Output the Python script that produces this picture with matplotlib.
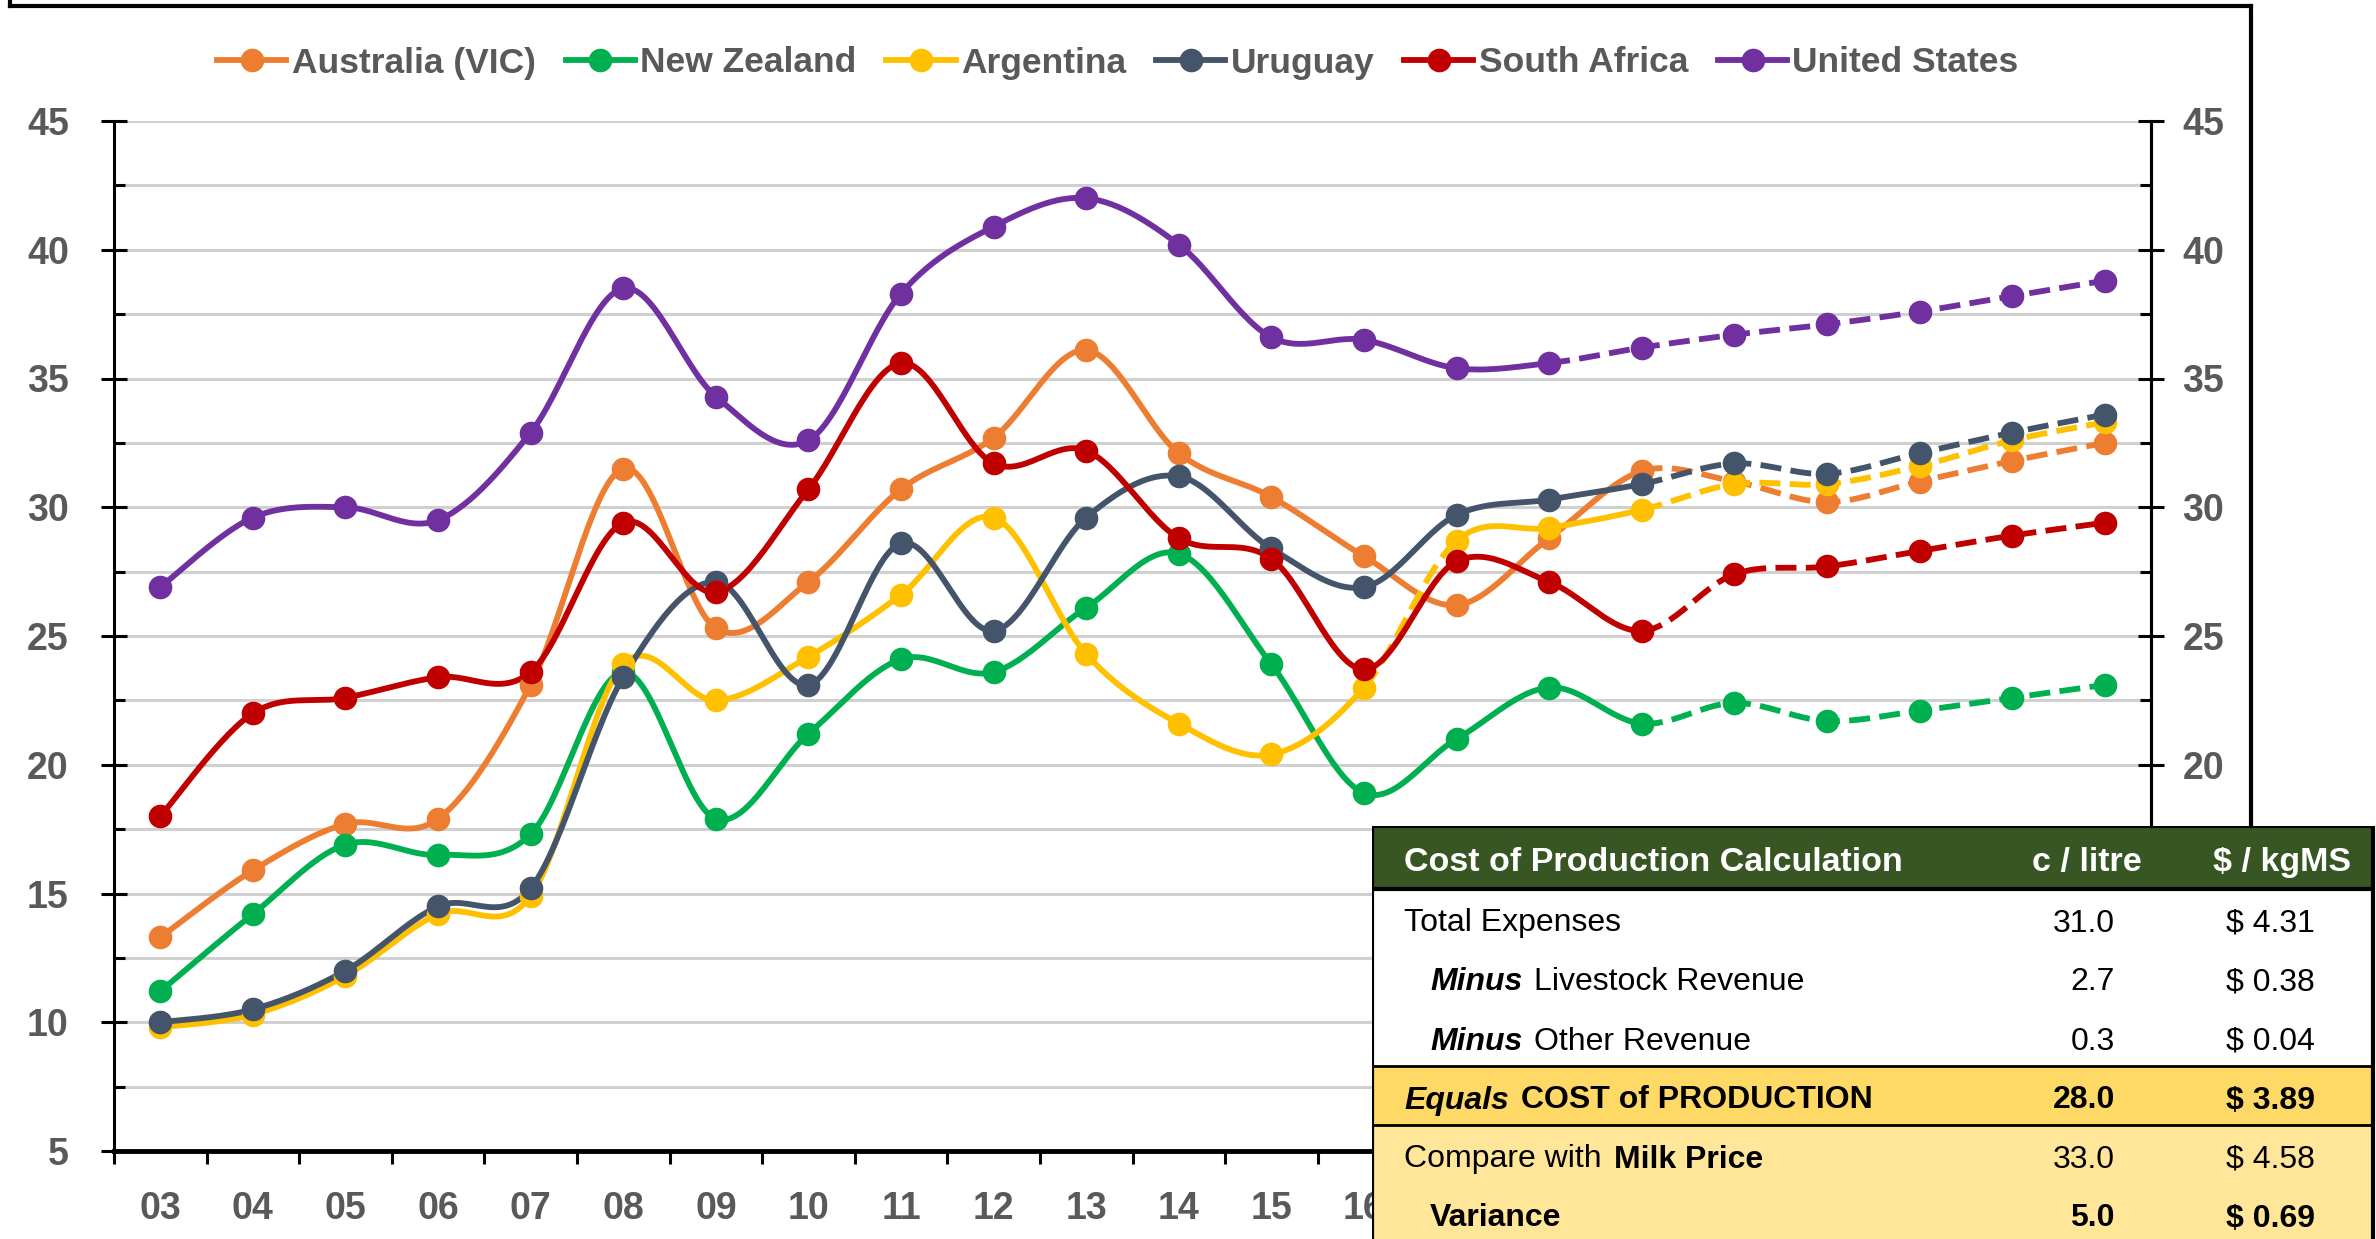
"""
各国牛奶生产成本对比图 (c / litre), 右下角附成本计算表
"""

import matplotlib

matplotlib.use("Agg")
import matplotlib.pyplot as plt
import numpy as np
from matplotlib.lines import Line2D
from matplotlib.patches import Rectangle

plt.rcParams["font.family"] = ["Liberation Sans", "DejaVu Sans"]

W, H = 2376, 1239  # 输出图片像素大小 (dpi=100)

# ---------------- 数据 ----------------
years = ["03", "04", "05", "06", "07", "08", "09", "10", "11", "12", "13",
         "14", "15", "16", "17", "18", "19", "20", "21", "22", "23", "24"]

series_names = ["Australia (VIC)", "New Zealand", "Argentina", "Uruguay",
                "South Africa", "United States"]
series_colors = ["#ED7D31", "#00B050", "#FFC000", "#44546A", "#C00000", "#7030A0"]

aus = [13.3, 15.9, 17.7, 17.9, 23.1, 31.5, 25.3, 27.1, 30.7, 32.7, 36.1,
       32.1, 30.4, 28.1, 26.2, 28.8, 31.4, 31.0, 30.2, 31.0, 31.8, 32.5]
nz = [11.2, 14.2, 16.9, 16.5, 17.3, 23.6, 17.9, 21.2, 24.1, 23.6, 26.1,
      28.2, 23.9, 18.9, 21.0, 23.0, 21.6, 22.4, 21.7, 22.1, 22.6, 23.1]
arg = [9.8, 10.3, 11.8, 14.2, 14.9, 23.9, 22.5, 24.2, 26.6, 29.6, 24.3,
       21.6, 20.4, 23.0, 28.7, 29.2, 29.9, 30.9, 30.9, 31.6, 32.6, 33.3]
uru = [10.0, 10.5, 12.0, 14.5, 15.2, 23.4, 27.1, 23.1, 28.6, 25.2, 29.6,
       31.2, 28.4, 26.9, 29.7, 30.3, 30.9, 31.7, 31.3, 32.1, 32.9, 33.6]
rsa = [18.0, 22.0, 22.6, 23.4, 23.6, 29.4, 26.7, 30.7, 35.6, 31.7, 32.2,
       28.8, 28.0, 23.7, 27.9, 27.1, 25.2, 27.4, 27.7, 28.3, 28.9, 29.4]
usa = [26.9, 29.6, 30.0, 29.5, 32.9, 38.5, 34.3, 32.6, 38.3, 40.9, 42.0,
       40.2, 36.6, 36.5, 35.4, 35.6, 36.2, 36.7, 37.1, 37.6, 38.2, 38.8]

# 以虚线绘制的线段 (线段 i 连接第 i 和第 i+1 个点)
aus_dashed = [16, 17, 18, 19, 20]
nz_dashed = [16, 17, 18, 19, 20]
arg_dashed = [13, 16, 17, 18, 19, 20]
uru_dashed = [16, 17, 18, 19, 20]
rsa_dashed = [16, 17, 18, 19, 20]
usa_dashed = [15, 16, 17, 18, 19, 20]

all_series = [aus, nz, arg, uru, rsa, usa]
all_dashed = [aus_dashed, nz_dashed, arg_dashed, uru_dashed, rsa_dashed, usa_dashed]

# 成本计算表
table_header = ["Cost of Production Calculation", "c / litre", "$ / kgMS"]
table_rows = [
    [("Total Expenses", "normal", "normal")],
    [("Minus", "bold", "italic"), ("Livestock Revenue", "normal", "normal")],
    [("Minus", "bold", "italic"), ("Other Revenue", "normal", "normal")],
    [("Equals", "bold", "italic"), ("COST of PRODUCTION", "bold", "normal")],
    [("Compare with", "normal", "normal"), ("Milk Price", "bold", "normal")],
    [("Variance", "bold", "normal")],
]
c_per_litre = [31.0, 2.7, 0.3, 28.0, 33.0, 5.0]
dollar_per_kgms = [4.31, 0.38, 0.04, 3.89, 4.58, 0.69]
row_indent = [False, True, True, False, False, True]
row_bold_values = [False, False, False, True, False, True]
row_colors = ["white", "white", "white", "#FFD966", "#FFE699", "#FFE699"]

TEXT_GREY = "#595959"
LINE_W = 4.2
MARKER = 16


def smooth_segment(x, y, i, n=30):
    """Excel 风格的平滑曲线: 用 Catmull-Rom 控制点生成第 i 段贝塞尔曲线."""
    last = len(x) - 1
    p0 = np.array([x[max(i - 1, 0)], y[max(i - 1, 0)]])
    p1 = np.array([x[i], y[i]])
    p2 = np.array([x[i + 1], y[i + 1]])
    p3 = np.array([x[min(i + 2, last)], y[min(i + 2, last)]])
    c1 = p1 + (p2 - p0) / 6
    c2 = p2 - (p3 - p1) / 6
    t = np.linspace(0, 1, n)[:, None]
    pts = ((1 - t) ** 3) * p1 + 3 * ((1 - t) ** 2) * t * c1 + 3 * (1 - t) * t ** 2 * c2 + t ** 3 * p2
    return pts[:, 0], pts[:, 1]


def draw_series(ax, values, dashed, color):
    """把连续的同线型线段合并后绘制, 保证虚线节奏连贯."""
    x = np.arange(len(values))
    runs = []
    for i in range(len(values) - 1):
        is_dashed = i in dashed
        if runs and runs[-1][0] == is_dashed:
            runs[-1][1].append(i)
        else:
            runs.append([is_dashed, [i]])
    for is_dashed, segs in runs:
        xs, ys = [], []
        for i in segs:
            sx, sy = smooth_segment(x, values, i)
            xs.extend(sx)
            ys.extend(sy)
        line, = ax.plot(xs, ys, color=color, lw=LINE_W, solid_capstyle="round", zorder=3)
        if is_dashed:
            line.set_dashes((3.6, 1.6))
            line.set_dash_capstyle("butt")
    ax.plot(x, values, "o", color=color, ms=MARKER, zorder=4)


fig = plt.figure(figsize=(W / 100, H / 100), dpi=100)

# ---------------- 主图 ----------------
ax = fig.add_axes([114 / W, 88 / H, (2151 - 114) / W, (1151 - 121) / H])

for values, dashed, color in zip(all_series, all_dashed, series_colors):
    draw_series(ax, values, dashed, color)

ax.set_xlim(-0.5, len(years) - 0.5)
ax.set_ylim(5, 45)
ax.set_yticks(np.arange(5, 46, 5))
ax.set_yticks(np.arange(7.5, 45, 5), minor=True)
ax.set_xticks(np.arange(len(years) + 1) - 0.5, labels=[])
ax.set_xticks(np.arange(len(years)), labels=years, minor=True)

ax.grid(True, axis="y", which="both", color="#D0D0D0", lw=2.2, zorder=0)
ax.set_axisbelow(True)

for side in ["left", "right"]:
    ax.spines[side].set_linewidth(2.2)
ax.spines["bottom"].set_linewidth(3.5)
ax.spines["top"].set_visible(False)

ax.tick_params(axis="y", which="major", direction="inout", length=19, width=2.2,
               left=True, right=False, labelsize=27, labelcolor=TEXT_GREY, pad=23)
ax.tick_params(axis="y", which="minor", direction="in", length=8, width=2.2,
               left=True, right=False)
ax.tick_params(axis="x", which="major", direction="out", length=9, width=2.2)
ax.tick_params(axis="x", which="minor", length=0, labelsize=27,
               labelcolor=TEXT_GREY, pad=29)

# 右侧刻度 (与左侧相同, 但标签间距不同)
ax_r = ax.twinx()
ax_r.set_ylim(ax.get_ylim())
ax_r.set_yticks(np.arange(5, 46, 5))
ax_r.set_yticks(np.arange(7.5, 45, 5), minor=True)
for side in ["left", "top", "bottom"]:
    ax_r.spines[side].set_visible(False)
ax_r.spines["right"].set_linewidth(2.2)
ax_r.tick_params(axis="y", which="major", direction="inout", length=19, width=2.2,
                 labelsize=27, labelcolor=TEXT_GREY, pad=13)
ax_r.tick_params(axis="y", which="minor", direction="in", length=8, width=2.2)

for label in ax.get_xticklabels(minor=True) + ax.get_yticklabels() + ax_r.get_yticklabels():
    label.set_fontweight("bold")

handles = [Line2D([], [], color=c, lw=LINE_W, marker="o", ms=MARKER) for c in series_colors]
ax.legend(handles, series_names, loc="center", bbox_to_anchor=(1118 / W, 1 - 63 / H),
          bbox_transform=fig.transFigure, ncol=6, frameon=False,
          handlelength=1.95, handletextpad=0.15, columnspacing=0.85,
          prop={"size": 25.5, "weight": "bold"}, labelcolor=TEXT_GREY)

# 外框 (左、上、右)
for xs, ys in [([10, 10], [0, 6]), ([10, 2251], [6, 6]), ([2251, 2251], [6, H])]:
    fig.add_artist(Line2D([x / W for x in xs], [1 - y / H for y in ys],
                          color="black", lw=3, transform=fig.transFigure))

# ---------------- 成本计算表 ----------------
tx0, tx1, ty0 = 1372, 2373, 826
tax = fig.add_axes([tx0 / W, 0, (W - tx0) / W, (H - ty0) / H])
tax.set_zorder(5)
tax.set_xlim(tx0, W)
tax.set_ylim(H, ty0)
tax.axis("off")

header_h, row_h = 63, 59
tax.add_patch(Rectangle((tx0, ty0), tx1 - tx0, header_h, facecolor="#375623",
                        edgecolor="none", zorder=1))
row_tops = [ty0 + header_h + i * row_h for i in range(len(table_rows))]
for top, color in zip(row_tops, row_colors):
    tax.add_patch(Rectangle((tx0, top), tx1 - tx0, row_h, facecolor=color,
                            edgecolor="none", zorder=1))

# 表格边框
border_kw = dict(color="black", zorder=3, solid_capstyle="butt")
tax.plot([tx0, tx1], [ty0, ty0], lw=3, **border_kw)
tax.plot([tx0, tx1], [ty0 + header_h, ty0 + header_h], lw=3, **border_kw)
tax.plot([tx0, tx1], [row_tops[3], row_tops[3]], lw=2, **border_kw)
tax.plot([tx0, tx1], [row_tops[4], row_tops[4]], lw=2, **border_kw)
tax.plot([tx0, tx0], [ty0, H], lw=3, **border_kw)
tax.plot([tx1, tx1], [ty0, H], lw=3, **border_kw)

label_x, indent_x = 1404, 1430
col1_right, col2_right = 2115, 2315
text_shift = 5  # 文字相对行中心略微下移
header_y = ty0 + header_h / 2 + text_shift
head_kw = dict(color="white", fontsize=24.5, fontweight="bold", va="center", zorder=4)
tax.text(label_x, header_y, table_header[0], ha="left", **head_kw)
tax.text(2087, header_y, table_header[1], ha="center", **head_kw)
tax.text(2282, header_y, table_header[2], ha="center", **head_kw)

renderer = fig.canvas.get_renderer()
inv = tax.transData.inverted()
for i, parts in enumerate(table_rows):
    y = row_tops[i] + row_h / 2 + text_shift
    x = indent_x if row_indent[i] else label_x
    for text, weight, style in parts:
        t = tax.text(x, y, text, ha="left", va="center", fontsize=23,
                     fontweight=weight, fontstyle=style, color="black", zorder=4)
        bbox = t.get_window_extent(renderer)
        x = inv.transform((bbox.x1, bbox.y0))[0] + 12
    weight = "bold" if row_bold_values[i] else "normal"
    tax.text(col1_right, y, f"{c_per_litre[i]:.1f}", ha="right", va="center",
             fontsize=23, fontweight=weight, zorder=4)
    tax.text(col2_right, y, f"$ {dollar_per_kgms[i]:.2f}", ha="right", va="center",
             fontsize=23, fontweight=weight, zorder=4)

fig.savefig("out.png", dpi=100)
